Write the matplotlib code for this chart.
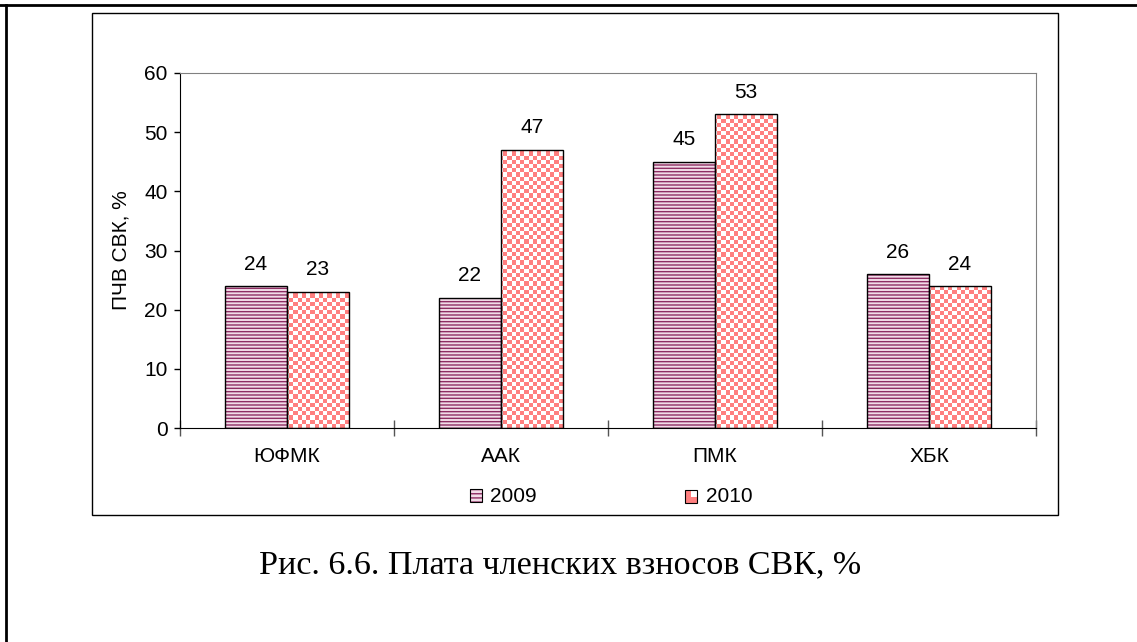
import numpy as np
import matplotlib.pyplot as plt
from matplotlib.patches import Rectangle
from matplotlib.lines import Line2D

# Données du graphique
categories = ['ЮФМК', 'ААК', 'ПМК', 'ХБК']
val_2009 = [24, 22, 45, 26]
val_2010 = [23, 47, 53, 24]
annees = ['2009', '2010']

W, H = 1137, 642
plt.rcParams['font.family'] = ['Liberation Sans', 'DejaVu Sans']
plt.rcParams['font.size'] = 15

fig = plt.figure(figsize=(W / 100, H / 100), dpi=100)

# conversion pixels -> fraction de figure
def fx(px):
    return px / W

def fy(py):
    return 1 - py / H

# Cadre de la page et cadre du graphique
fig.add_artist(Line2D([0, 1], [fy(5), fy(5)], color='black', lw=2.0, transform=fig.transFigure))
fig.add_artist(Line2D([fx(6), fx(6)], [0, fy(5)], color='black', lw=2.0, transform=fig.transFigure))
fig.add_artist(Rectangle((fx(92), fy(515)), fx(1058) - fx(92), fy(13) - fy(515),
                         fill=False, edgecolor='black', lw=1.0, transform=fig.transFigure))

ax = fig.add_axes([fx(180), fy(428), fx(1036) - fx(180), fy(73) - fy(428)])

x = np.arange(len(categories))
larg = 0.29
dec = 0.145

# 2009 : rayures horizontales violettes
b1 = ax.bar(x - dec, val_2009, larg, facecolor='#f2dce8', edgecolor='#8e2d63', hatch='-----',
            lw=0, zorder=2)
b1e = ax.bar(x - dec, val_2009, larg, facecolor='none', edgecolor='black', lw=1.0, zorder=3)

# 2010 : damier saumon (image découpée sur chaque barre)
b2 = ax.bar(x + dec, val_2010, larg, facecolor='none', edgecolor='black', lw=1.0, zorder=3)
nx, ny = 204, 85
ii, jj = np.meshgrid(np.arange(nx), np.arange(ny))
damier = ((ii + jj) % 2 == 0)
img = np.ones((ny, nx, 3))
img[damier] = [1.0, 0.5, 0.5]
for bar in b2:
    im = ax.imshow(img, extent=(0, 1, 0, 1), transform=ax.transAxes, aspect='auto',
                   interpolation='nearest', zorder=2)
    im.set_clip_path(bar)

ax.bar_label(b1e, labels=[str(v) for v in val_2009], padding=9)
ax.bar_label(b2, labels=[str(v) for v in val_2010], padding=9)

ax.set_xlim(-0.5, 3.5)
ax.set_ylim(0, 60)
ax.set_yticks(range(0, 61, 10))
ax.tick_params(axis='y', direction='out', length=4, width=1, pad=5)

# ticks majeurs entre catégories, libellés au centre (ticks mineurs)
ax.set_xticks(np.arange(-0.5, 3.6, 1.0))
ax.set_xticklabels([])
ax.tick_params(axis='x', which='major', direction='inout', length=12, width=1, color='#555555')
ax.set_xticks(x, minor=True)
ax.set_xticklabels(categories, minor=True)
ax.tick_params(axis='x', which='minor', length=0, pad=14)

ax.set_ylabel('ПЧВ СВК, %')
ax.yaxis.set_label_coords(-0.058, 0.5)

for s in ['top', 'right']:
    ax.spines[s].set_color('#808080')
for s in ['left', 'bottom']:
    ax.spines[s].set_color('black')

# Légende
class Damier:
    pass

class HandlerDamier:
    def legend_artist(self, legend, orig_handle, fontsize, handlebox):
        x0, y0 = handlebox.xdescent, handlebox.ydescent
        w, h = handlebox.width, handlebox.height
        t = handlebox.get_transform()
        handlebox.add_artist(Rectangle((x0, y0), w, h, facecolor='#ff8080', lw=0, transform=t))
        handlebox.add_artist(Rectangle((x0 + w / 2, y0 + h / 2), w / 2, h / 2, facecolor='white', lw=0, transform=t))
        cadre = Rectangle((x0, y0), w, h, facecolor='none', edgecolor='black', lw=0.8, transform=t)
        handlebox.add_artist(cadre)
        return cadre

hl1 = Rectangle((0, 0), 1, 1, facecolor='#f2dce8', edgecolor='#8e2d63', hatch='----', lw=0)
hl1e = Rectangle((0, 0), 1, 1, facecolor='none', edgecolor='black', lw=0.8)
fig.legend([(hl1, hl1e), Damier()], annees, handler_map={Damier: HandlerDamier()},
           loc='center', bbox_to_anchor=(fx(611), fy(497)), ncol=2, frameon=False,
           handlelength=0.6, handleheight=0.6, handletextpad=0.4, columnspacing=7.1)

fig.text(fx(560), fy(565), 'Рис. 6.6. Плата членских взносов СВК, %',
         family=['Liberation Serif', 'DejaVu Serif'], fontsize=24.5, ha='center', va='center')

fig.savefig('out.png', dpi=100)
